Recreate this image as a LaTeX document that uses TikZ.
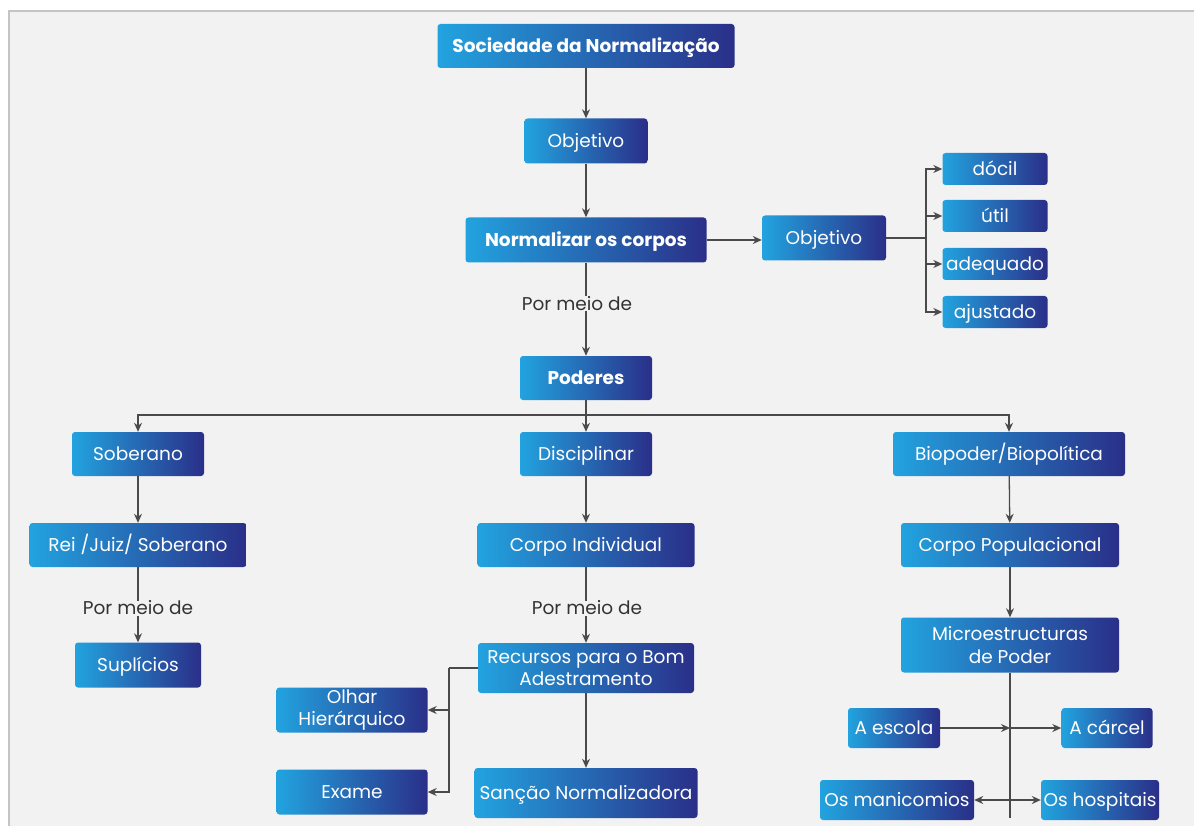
\documentclass[tikz,border=0pt]{standalone}
\usepackage{fontspec}
\setmainfont{Poppins}
\usetikzlibrary{arrows.meta}
\definecolor{bgc}{HTML}{F2F2F2}
\definecolor{lb}{HTML}{22A3DF}
\definecolor{db}{HTML}{2A2F88}
\definecolor{ln}{HTML}{4A4A4A}
\definecolor{frm}{HTML}{C4C4C4}
\tikzset{
  bxbase/.style={rounded corners=3pt, left color=lb, right color=db, text=white,
    inner sep=0pt, align=center, font=\fontsize{18.5}{22.5}\selectfont},
  bx/.style={bxbase, text height=13pt, text depth=0pt},
  bxtwo/.style={bxbase},
  bxb/.style={bx, font=\fontsize{18.5}{22.5}\selectfont\bfseries},
  wire/.style={draw=ln, line width=1.3pt},
  conn/.style={wire, -{Stealth[length=9pt,width=8pt]}},
  lbl/.style={fill=bgc, text=black!80, inner sep=1pt, font=\fontsize{18.5}{22.5}\selectfont}
}
\begin{document}
\begin{tikzpicture}[x=1pt,y=-1pt]
\useasboundingbox (0,0) rectangle (1194,826);
\clip (0,0) rectangle (1194,826);
\fill[white] (0,0) rectangle (1194,826);
\filldraw[fill=bgc, draw=frm, line width=2pt] (9,11) rectangle (1210,850);

% nodes
\node[bxb, minimum width=297, minimum height=44] (soc) at (586,46) {Sociedade da Normalização};
\node[bx, minimum width=123, minimum height=45] (obj1) at (586,141) {Objetivo};
\node[bxb, minimum width=241, minimum height=45] (norm) at (586,240) {Normalizar os corpos};
\node[bx, minimum width=124, minimum height=45] (obj2) at (824,238) {Objetivo};
\node[bx, minimum width=105, minimum height=32] (docil) at (995,169) {dócil};
\node[bx, minimum width=105, minimum height=32] (util) at (995,216) {útil};
\node[bx, minimum width=105, minimum height=32] (adeq) at (995,264) {adequado};
\node[bx, minimum width=105, minimum height=32] (ajus) at (995,312) {ajustado};
\node[bxb, minimum width=132, minimum height=44] (pod) at (586,378) {Poderes};
\node[bx, minimum width=132, minimum height=44] (sob) at (138,454) {Soberano};
\node[bx, minimum width=132, minimum height=44] (dis) at (586,454) {Disciplinar};
\node[bx, minimum width=232, minimum height=44] (bio) at (1009,454) {Biopoder/Biopolítica};
\node[bx, minimum width=217, minimum height=44] (rei) at (138,545) {Rei /Juiz/ Soberano};
\node[bx, minimum width=217, minimum height=44] (cind) at (586,545) {Corpo Individual};
\node[bx, minimum width=218, minimum height=44] (cpop) at (1010,545) {Corpo Populacional};
\node[bx, minimum width=126, minimum height=45] (sup) at (138,665) {Suplícios};
\node[bxtwo, minimum width=216, minimum height=50] (rec) at (586,668) {Recursos para o Bom\\Adestramento};
\node[bxtwo, minimum width=151, minimum height=45] (olh) at (352,710) {Olhar\\Hierárquico};
\node[bx, minimum width=151, minimum height=45] (exa) at (352,792) {Exame};
\node[bx, minimum width=223, minimum height=50] (san) at (586,793) {Sanção Normalizadora};
\node[bxtwo, minimum width=218, minimum height=55] (mic) at (1010,645) {Microestructuras\\de Poder};
\node[bx, minimum width=92, minimum height=40] (esc) at (894,728) {A escola};
\node[bx, minimum width=91, minimum height=40] (car) at (1107,728) {A cárcel};
\node[bx, minimum width=154, minimum height=40] (man) at (897,800) {Os manicomios};
\node[bx, minimum width=118, minimum height=40] (hos) at (1100,800) {Os hospitais};

% coordinates
\coordinate (br) at (926,238);
\coordinate (hb) at (586,415);
\coordinate (rb) at (449,668);
\coordinate (mb) at (1010,818);

% connectors
\draw[conn] (soc) -- (obj1);
\draw[conn] (obj1) -- (norm);
\draw[conn] (norm.east) -- (norm.east -| obj2.west);
\draw[wire] (obj2.east) -- (br);
\draw[conn] (br) |- (docil.west);
\draw[conn] (br) |- (util.west);
\draw[conn] (br) |- (adeq.west);
\draw[conn] (br) |- (ajus.west);
\draw[conn] (norm) -- (pod);
\node[lbl, text height=13pt, text depth=0pt] (pm1) at (577,304) {Por meio de};
\draw[wire] (pod) -- (hb);
\draw[conn] (hb) -- (dis);
\draw[conn] (hb) -| (sob);
\draw[conn] (hb) -| (bio);
\draw[conn] (sob) -- (rei);
\draw[conn] (dis) -- (cind);
\draw[conn] (bio) -- (cpop);
\draw[conn] (rei) -- (sup);
\node[lbl, text height=13pt, text depth=0pt] (pm2) at (138,608) {Por meio de};
\draw[conn] (cind) -- (rec);
\node[lbl, text height=13pt, text depth=0pt] (pm3) at (587,608) {Por meio de};
\draw[conn] (cpop) -- (mic);
\draw[wire] (rec.west) -- (rb);
\draw[conn] (rb) |- (olh.east);
\draw[conn] (rb) |- (exa.east);
\draw[conn] (rec) -- (san);
\draw[wire] (mic.south) -- (mb);
\draw[conn] (esc.east) -- (esc.east -| mic.south);
\draw[conn] (esc.east -| mic.south) -- (car.west);
\draw[conn] (man.east -| mic.south) -- (man.east);
\draw[conn] (man.east -| mic.south) -- (hos.west);
\end{tikzpicture}
\end{document}
